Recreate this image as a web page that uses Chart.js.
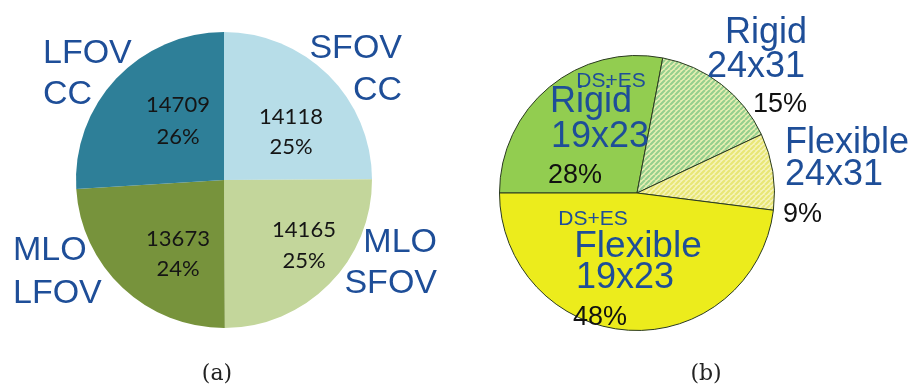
<!DOCTYPE html>
<html>
<head>
<meta charset="utf-8">
<script src="https://cdn.jsdelivr.net/npm/chart.js@4/dist/chart.umd.min.js"></script>
<style>
  html,body{margin:0;padding:0;background:#fff;width:915px;height:389px;overflow:hidden;}
  #wrapA{position:absolute;left:0;top:0;width:460px;height:389px;}
  #wrapB{position:absolute;left:460px;top:0;width:455px;height:389px;}
  .cap{position:absolute;top:360px;font-family:"DejaVu Serif","Liberation Serif",serif;font-size:22px;color:#222;transform:translateX(-50%);}
</style>
</head>
<body>
<div id="wrapA"><canvas id="chartA" width="460" height="389"></canvas></div>
<div id="wrapB"><canvas id="chartB" width="455" height="389"></canvas></div>
<div class="cap" style="left:217px;">(a)</div>
<div class="cap" style="left:706px;">(b)</div>
<script>
// ---------- data: chart (a) ----------
const catsA = [["SFOV","CC"],["MLO","SFOV"],["MLO","LFOV"],["LFOV","CC"]];
const valuesA = [14118, 14165, 13673, 14709];
const colorsA = ["#b7dde8","#c3d69b","#77933c","#2e7f98"];

// ---------- data: chart (b) ----------
const catsB = [["DS+ES","Rigid","19x23"],["Rigid","24x31"],["Flexible","24x31"],["DS+ES","Flexible","19x23"]];
const valuesB = [28, 15, 9, 48];

const BLUE = "#1e4e98";

function hatch(bg, fg){
  const p = 5;
  const c = document.createElement('canvas');
  c.width = p; c.height = p;
  const g = c.getContext('2d');
  g.fillStyle = bg; g.fillRect(0,0,p,p);
  g.strokeStyle = fg; g.lineWidth = 2.2;
  g.beginPath();
  for (const k of [-p,0,p]) { g.moveTo(k,p); g.lineTo(k+p,0); }
  g.stroke();
  return g.createPattern(c,'repeat');
}

const totalA = valuesA.reduce((a,b)=>a+b,0);

// label layout (offsets from pie centre, px)
const layoutA = {
  names: [
    {x:178, y:[-122,-80], align:'right'},
    {x:213, y:[72,113], align:'right'},
    {x:-211, y:[80,123], align:'left'},
    {x:-181, y:[-117,-76], align:'left'}
  ],
  nums: [
    {x:67, y:[-63,-33]},
    {x:80, y:[50,81]},
    {x:-46, y:[59,89]},
    {x:-46, y:[-75,-43]}
  ]
};

const layoutB = [
  {lines:[{x:-26,y:-106,f:'21px'},{x:-46,y:-81,f:'36px'},{x:-37,y:-46,f:'36px'}], pct:{x:-62,y:-10}, align:'center'},
  {lines:[{x:170,y:-150,f:'36px'},{x:168,y:-116,f:'36px'}], pct:{x:170,y:-81}, align:'right'},
  {lines:[{x:148,y:-40,f:'36px'},{x:148,y:-8,f:'36px'}], pct:{x:146,y:29}, align:'left'},
  {lines:[{x:-44,y:32,f:'21px'},{x:1,y:64,f:'37px'},{x:-12,y:95,f:'36px'}], pct:{x:-37,y:132}, align:'center'}
];

function centre(chart){
  const arc = chart.getDatasetMeta(0).data[0];
  return {cx: arc.x, cy: arc.y};
}

const labelsA = {
  id:'labelsA',
  afterDraw(chart){
    const ctx = chart.ctx; const {cx,cy} = centre(chart);
    ctx.save();
    ctx.textBaseline = 'alphabetic';
    catsA.forEach((lines,i)=>{
      const L = layoutA.names[i];
      ctx.font = '34px "Liberation Sans", Arial, sans-serif';
      ctx.fillStyle = BLUE; ctx.textAlign = L.align;
      lines.forEach((t,j)=>ctx.fillText(t, cx+L.x, cy+L.y[j]));
      const N = layoutA.nums[i];
      ctx.font = '22px Lato, "Open Sans", sans-serif';
      ctx.fillStyle = '#151515'; ctx.textAlign = 'center'; ctx.textBaseline = 'middle';
      ctx.fillText(String(valuesA[i]), cx+N.x, cy+N.y[0]);
      ctx.fillText(Math.round(valuesA[i]/totalA*100)+'%', cx+N.x, cy+N.y[1]);
      ctx.textBaseline = 'alphabetic';
    });
    ctx.restore();
  }
};

const labelsB = {
  id:'labelsB',
  afterDraw(chart){
    const ctx = chart.ctx; const {cx,cy} = centre(chart);
    ctx.save();
    ctx.textBaseline = 'alphabetic';
    catsB.forEach((lines,i)=>{
      const L = layoutB[i];
      ctx.textAlign = L.align;
      ctx.fillStyle = BLUE;
      lines.forEach((t,j)=>{
        ctx.font = L.lines[j].f + ' "Liberation Sans", Arial, sans-serif';
        ctx.fillText(t, cx+L.lines[j].x, cy+L.lines[j].y);
      });
      ctx.font = '27px "Liberation Sans", Arial, sans-serif';
      ctx.fillStyle = '#111';
      ctx.fillText(valuesB[i]+'%', cx+L.pct.x, cy+L.pct.y);
    });
    ctx.restore();
  }
};

new Chart(document.getElementById('chartA'), {
  type:'pie',
  data:{ labels: catsA.map(l=>l.join(' ')), datasets:[{ data: valuesA, backgroundColor: colorsA, borderWidth:0 }]},
  options:{
    responsive:false, animation:false, devicePixelRatio:1,
    rotation:0,
    layout:{ padding:{left:76, top:32, right:88, bottom:61} },
    plugins:{ legend:{display:false}, tooltip:{enabled:false} }
  },
  plugins:[labelsA]
});

const colorsB = ["#92cd50", hatch("#eaf0b4","#96cf8e"), hatch("#f6f4bc","#e8e676"), "#ecec1c"];

new Chart(document.getElementById('chartB'), {
  type:'pie',
  data:{ labels: catsB.map(l=>l.join(' ')), datasets:[{ data: valuesB, backgroundColor: colorsB, borderColor:'#2a3a20', borderWidth:1 }]},
  options:{
    responsive:false, animation:false, devicePixelRatio:1,
    rotation:-90,
    layout:{ padding:{left:39, top:55, right:140, bottom:58} },
    plugins:{ legend:{display:false}, tooltip:{enabled:false} }
  },
  plugins:[labelsB]
});
</script>
</body>
</html>
